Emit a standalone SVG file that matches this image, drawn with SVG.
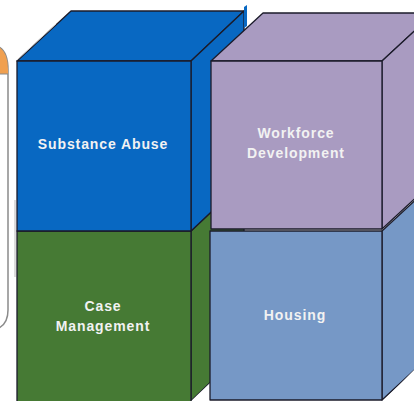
<svg xmlns="http://www.w3.org/2000/svg" width="414" height="401" viewBox="0 0 414 401">
<style>
.edge{stroke:#1b1b2a;stroke-width:1.3;stroke-linejoin:round}
.lbl{font-family:"Liberation Sans",Arial,sans-serif;font-weight:bold;font-size:14px;fill:#f2f2f2;text-anchor:middle;letter-spacing:0.9px}
</style>
<rect width="414" height="401" fill="#ffffff"/>
<g id="side-panel">
<path d="M-40,45 H-10 Q8,45 8,70 V310 Q8,330 -12,330 H-40 Z" fill="#ffffff" stroke="#8a8a8a" stroke-width="1.5"/>
<path d="M-40,45 H-10 Q8,45 8,70 V74 H-40 Z" fill="#f0a050"/>
<line x1="-40" y1="74" x2="8" y2="74" stroke="#8a8a8a" stroke-width="1"/>
<line x1="15" y1="200" x2="15" y2="277" stroke="#b8b8b8" stroke-width="1"/>
</g>
<g id="case-management">
<polygon points="191,231 244,181 244,350 191,401" fill="#467a34" class="edge"/>
<polygon points="191,401 210,383 210,401" fill="#ffffff"/>
<rect x="17" y="231" width="174" height="172" fill="#467a34" class="edge"/>
<text class="lbl" x="103" y="311">Case</text>
<text class="lbl" x="103" y="331">Management</text>
</g>
<g id="substance-abuse">
<polygon points="17,61 71,11 244,11 191,61" fill="#0868c2" class="edge"/>
<polygon points="191,61 244,11 244,181 191,231" fill="#0868c2" class="edge"/>
<polygon points="244,7 247,5 247,26 244,28" fill="#0868c2"/>
<rect x="17" y="61" width="174" height="170" fill="#0868c2" class="edge"/>
<line x1="17" y1="60" x2="56" y2="24" stroke="#c8c8c8" stroke-width="1"/>
<text class="lbl" x="103" y="149">Substance Abuse</text>
</g>
<g id="housing">
<polygon points="382,231 434,183 434,352 382,400" fill="#7698c6" class="edge"/>
<polygon points="383,401 414,370 414,401" fill="#ffffff"/>
<rect x="210" y="231" width="172" height="169" fill="#7698c6" class="edge"/>
<text class="lbl" x="295" y="320">Housing</text>
</g>
<g id="workforce-development">
<polygon points="211,61 263,13 434,13 382,61" fill="#a99bc1" class="edge"/>
<polygon points="382,61 434,13 434,181 382,229" fill="#a99bc1" class="edge"/>
<rect x="211" y="61" width="171" height="168" fill="#a99bc1" class="edge"/>
<text class="lbl" x="296" y="138">Workforce</text>
<text class="lbl" x="296" y="158">Development</text>
</g>
</svg>
